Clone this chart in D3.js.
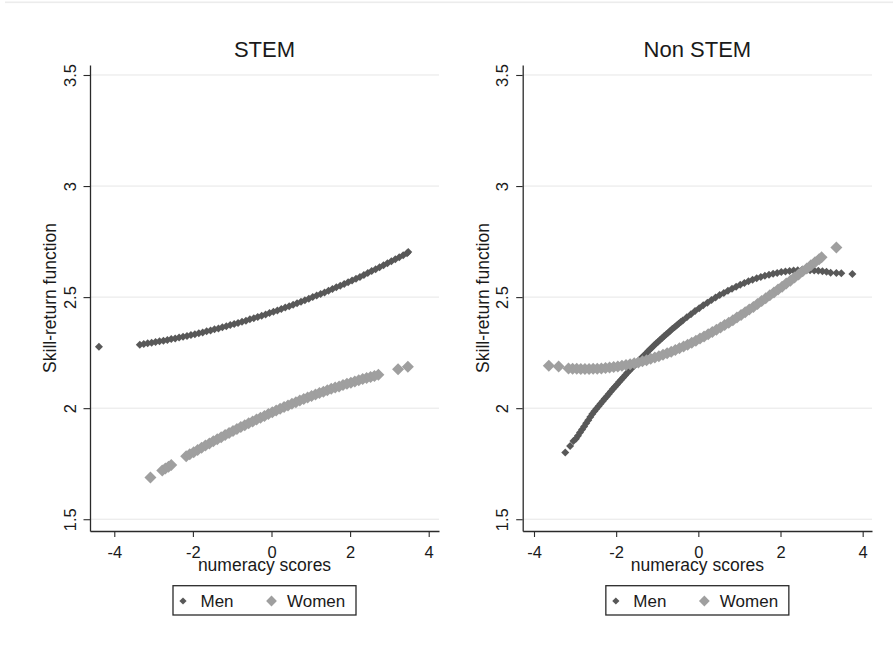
<!DOCTYPE html>
<html>
<head>
<meta charset="utf-8">
<script src="https://cdn.jsdelivr.net/npm/d3@7"></script>
<style>
  html, body { margin: 0; padding: 0; background: #ffffff; }
  svg { display: block; font-family: "Liberation Sans", Arial, sans-serif; }
</style>
</head>
<body>
<svg id="chart" width="893" height="650"></svg>
<script>
// ---- Data -------------------------------------------------------------
const panelTitles = ["STEM", "Non STEM"];
const seriesNames = ["Men", "Women"];
const xTicks = [-4, -2, 0, 2, 4];
const yTicks = [1.5, 2, 2.5, 3, 3.5];
const xTitle = "numeracy scores";
const yTitle = "Skill-return function";

// [numeracy score, skill-return] pairs
const stemMen = [
  [-4.39,2.276],[-3.35,2.286],[-3.25,2.289],[-3.15,2.292],[-3.05,2.295],[-2.95,2.298],[-2.85,2.301],
  [-2.75,2.304],[-2.65,2.307],[-2.55,2.311],[-2.45,2.314],[-2.35,2.318],[-2.25,2.321],[-2.15,2.325],
  [-2.05,2.329],[-1.95,2.333],[-1.85,2.337],[-1.75,2.341],[-1.65,2.346],[-1.55,2.350],[-1.45,2.355],
  [-1.35,2.359],[-1.25,2.364],[-1.15,2.369],[-1.05,2.374],[-0.95,2.379],[-0.85,2.384],[-0.75,2.389],
  [-0.65,2.394],[-0.55,2.400],[-0.45,2.405],[-0.35,2.411],[-0.25,2.416],[-0.15,2.422],[-0.05,2.428],
  [0.05,2.434],[0.15,2.440],[0.25,2.446],[0.35,2.453],[0.45,2.459],[0.55,2.466],[0.65,2.472],
  [0.75,2.479],[0.85,2.486],[0.95,2.493],[1.05,2.500],[1.15,2.507],[1.25,2.514],[1.35,2.521],
  [1.45,2.529],[1.55,2.536],[1.65,2.544],[1.75,2.551],[1.85,2.559],[1.95,2.567],[2.05,2.575],
  [2.15,2.583],[2.25,2.591],[2.35,2.600],[2.45,2.608],[2.55,2.617],[2.65,2.625],[2.75,2.634],
  [2.85,2.643],[2.95,2.652],[3.05,2.661],[3.15,2.670],[3.25,2.679],[3.35,2.688],[3.45,2.698],[3.48,2.703]
];
const stemWomen = [
  [-3.08,1.688],[-2.78,1.719],[-2.70,1.728],[-2.62,1.736],[-2.55,1.744],[-2.17,1.783],[-2.08,1.792],
  [-1.98,1.802],[-1.88,1.812],[-1.78,1.822],[-1.68,1.832],[-1.58,1.841],[-1.48,1.851],[-1.38,1.860],
  [-1.28,1.869],[-1.18,1.879],[-1.08,1.888],[-0.98,1.897],[-0.88,1.906],[-0.78,1.915],[-0.68,1.923],
  [-0.58,1.932],[-0.48,1.940],[-0.38,1.949],[-0.28,1.957],[-0.18,1.965],[-0.08,1.974],[0.02,1.982],
  [0.12,1.990],[0.22,1.997],[0.32,2.005],[0.42,2.012],[0.52,2.020],[0.62,2.027],[0.72,2.034],
  [0.82,2.041],[0.92,2.048],[1.02,2.055],[1.12,2.061],[1.22,2.068],[1.32,2.074],[1.42,2.081],
  [1.52,2.087],[1.62,2.093],[1.72,2.098],[1.82,2.104],[1.92,2.110],[2.02,2.115],[2.12,2.120],
  [2.22,2.126],[2.32,2.131],[2.42,2.136],[2.52,2.140],[2.62,2.145],[2.72,2.150],[3.22,2.175],[3.47,2.187]
];
const nonStemMen = [
  [-3.24,1.800],[-3.12,1.830],[-3.04,1.852],[-2.98,1.862],[-2.93,1.876],[-2.88,1.890],[-2.83,1.904],
  [-2.78,1.918],[-2.73,1.932],[-2.68,1.946],[-2.63,1.960],[-2.58,1.974],[-2.53,1.986],[-2.48,1.997],
  [-2.43,2.009],[-2.38,2.020],[-2.33,2.031],[-2.28,2.042],[-2.23,2.053],[-2.18,2.064],[-2.13,2.075],
  [-2.08,2.086],[-2.03,2.097],[-1.98,2.107],[-1.93,2.118],[-1.88,2.128],[-1.83,2.138],[-1.78,2.148],
  [-1.73,2.159],[-1.68,2.169],[-1.63,2.179],[-1.58,2.188],[-1.53,2.198],[-1.48,2.208],[-1.43,2.218],
  [-1.38,2.227],[-1.33,2.236],[-1.28,2.245],[-1.23,2.255],[-1.18,2.264],[-1.13,2.273],[-1.08,2.282],
  [-1.03,2.291],[-0.98,2.299],[-0.93,2.308],[-0.88,2.316],[-0.83,2.325],[-0.78,2.333],[-0.73,2.341],
  [-0.68,2.349],[-0.63,2.357],[-0.58,2.364],[-0.53,2.372],[-0.48,2.380],[-0.43,2.388],[-0.38,2.395],
  [-0.28,2.409],[-0.18,2.423],[-0.08,2.437],[0.02,2.450],[0.12,2.463],
  [0.22,2.475],[0.32,2.487],[0.42,2.498],[0.52,2.509],[0.62,2.519],[0.72,2.529],[0.82,2.538],
  [0.92,2.547],[1.02,2.556],[1.12,2.564],[1.22,2.571],[1.32,2.578],[1.42,2.585],[1.52,2.591],
  [1.62,2.596],[1.72,2.601],[1.82,2.605],[1.92,2.609],[2.02,2.613],[2.12,2.615],[2.22,2.618],
  [2.32,2.620],[2.42,2.621],[2.52,2.622],[2.62,2.622],[2.72,2.621],[2.82,2.620],[2.92,2.619],
  [3.02,2.616],[3.12,2.614],[3.22,2.610],[3.36,2.608],[3.48,2.607],[3.75,2.604]
];
const nonStemWomen = [
  [-3.64,2.191],[-3.40,2.188],[-3.16,2.179],[-3.06,2.178],[-2.96,2.177],[-2.86,2.176],[-2.76,2.176],
  [-2.66,2.176],[-2.56,2.177],[-2.46,2.178],[-2.36,2.179],[-2.26,2.181],[-2.16,2.183],[-2.06,2.185],
  [-1.96,2.188],[-1.86,2.191],[-1.76,2.194],[-1.66,2.198],[-1.56,2.202],[-1.46,2.206],[-1.36,2.211],
  [-1.26,2.216],[-1.16,2.222],[-1.06,2.228],[-0.96,2.234],[-0.86,2.240],[-0.76,2.247],[-0.66,2.254],
  [-0.56,2.262],[-0.46,2.270],[-0.36,2.278],[-0.26,2.286],[-0.16,2.295],[-0.06,2.304],[0.04,2.314],
  [0.14,2.323],[0.24,2.333],[0.34,2.343],[0.44,2.353],[0.54,2.363],[0.64,2.374],[0.74,2.385],
  [0.84,2.396],[0.94,2.408],[1.04,2.420],[1.14,2.432],[1.24,2.444],[1.34,2.456],[1.44,2.469],
  [1.54,2.482],[1.64,2.495],[1.74,2.508],[1.84,2.521],[1.94,2.534],[2.04,2.547],[2.14,2.561],
  [2.24,2.574],[2.34,2.588],[2.44,2.602],[2.54,2.616],[2.64,2.629],[2.74,2.643],[2.84,2.657],
  [2.94,2.671],[3.00,2.679],[3.36,2.723]
];

// ---- Layout & style ---------------------------------------------------
const svg = d3.select("#chart");
const colors = { Men: "#585858", Women: "#9f9f9f" };
const markerR = { Men: 4.0, Women: 6.0 };
const axisColor = "#2a2a2a";
const textColor = "#1a1a1a";
const gridColor = "#e6e6e6";

// faint rule across the top of the canvas
svg.append("rect").attr("x", 5).attr("y", 1.5).attr("width", 888).attr("height", 1.6)
  .attr("fill", "#ececec");

const y = d3.scaleLinear().domain([1.447, 3.545]).range([531, 65]);

const panels = [
  { title: panelTitles[0], x0: 90, x1: 439, xDomain: [-4.618, 4.262], men: stemMen, women: stemWomen },
  { title: panelTitles[1], x0: 522.7, x1: 872, xDomain: [-4.275, 4.227], men: nonStemMen, women: nonStemWomen }
];

function diamondPath(r) {
  return d3.symbol().type(d3.symbolSquare).size(2 * r * r)();
}

panels.forEach(p => {
  const g = svg.append("g");
  const x = d3.scaleLinear().domain(p.xDomain).range([p.x0, p.x1]);
  const cx = (p.x0 + p.x1) / 2;

  // horizontal grid
  g.append("g").selectAll("line").data(yTicks).join("line")
    .attr("x1", p.x0).attr("x2", p.x1)
    .attr("y1", d => y(d)).attr("y2", d => y(d))
    .attr("stroke", gridColor).attr("stroke-width", 1);

  // markers: men first, women drawn over them
  const series = [["Men", p.men], ["Women", p.women]];
  series.forEach(([name, pts]) => {
    const path = diamondPath(markerR[name]);
    g.append("g").selectAll("path").data(pts).join("path")
      .attr("d", path)
      .attr("transform", d => `translate(${x(d[0])},${y(d[1])}) rotate(45)`)
      .attr("fill", colors[name]);
  });

  // y axis
  const yAxis = g.append("g").attr("transform", `translate(${p.x0},0)`)
    .call(d3.axisLeft(y).tickValues(yTicks).tickSize(6.5).tickSizeOuter(0).tickFormat(d => String(d)));
  yAxis.select(".domain").attr("stroke", axisColor).attr("stroke-width", 1.3);
  yAxis.selectAll(".tick line").attr("stroke", axisColor).attr("stroke-width", 1.1);
  yAxis.selectAll(".tick text")
    .attr("transform", "rotate(-90)")
    .attr("x", 0).attr("y", -14.5).attr("dy", 0)
    .attr("text-anchor", "middle")
    .attr("fill", textColor)
    .style("font-size", "16.5px").style("font-family", "'Liberation Sans', Arial, sans-serif");

  // x axis
  const xAxis = g.append("g").attr("transform", "translate(0,531)")
    .call(d3.axisBottom(x).tickValues(xTicks).tickSize(6).tickSizeOuter(0).tickFormat(d => String(d)));
  xAxis.select(".domain").attr("stroke", axisColor).attr("stroke-width", 1.3);
  xAxis.selectAll(".tick line").attr("stroke", axisColor).attr("stroke-width", 1.1);
  xAxis.selectAll(".tick text")
    .attr("y", 27).attr("dy", 0)
    .attr("fill", textColor)
    .style("font-size", "16.5px").style("font-family", "'Liberation Sans', Arial, sans-serif");

  // titles
  g.append("text").attr("x", cx).attr("y", 57).attr("text-anchor", "middle")
    .attr("fill", textColor).style("font-size", "22px").text(p.title);
  g.append("text").attr("x", cx).attr("y", 571).attr("text-anchor", "middle")
    .attr("fill", textColor).style("font-size", "17.5px").text(xTitle);
  g.append("text")
    .attr("transform", `translate(${p.x0 - 34},298) rotate(-90)`)
    .attr("text-anchor", "middle")
    .attr("fill", textColor).style("font-size", "17.5px").text(yTitle);

  // legend
  const lg = g.append("g").attr("transform", `translate(${cx},0)`);
  lg.append("rect").attr("x", -91.5).attr("y", 585.7).attr("width", 183).attr("height", 29.3)
    .attr("fill", "#fff").attr("stroke", axisColor).attr("stroke-width", 1.3);
  const items = [
    { name: seriesNames[0], mx: -81.5, tx: -64 },
    { name: seriesNames[1], mx: 7, tx: 22.5 }
  ];
  items.forEach(it => {
    lg.append("path").attr("d", diamondPath(markerR[it.name] * 0.9))
      .attr("transform", `translate(${it.mx},601) rotate(45)`)
      .attr("fill", colors[it.name]);
    lg.append("text").attr("x", it.tx).attr("y", 607.3)
      .attr("fill", textColor).style("font-size", "17px").text(it.name);
  });
});
</script>
</body>
</html>
